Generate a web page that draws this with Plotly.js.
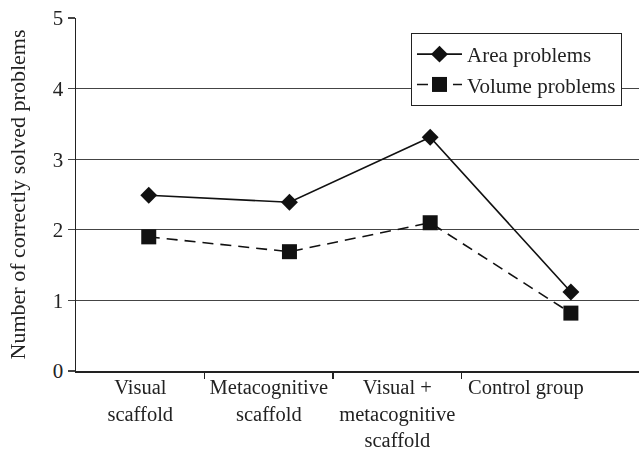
<!DOCTYPE html>
<html>
<head>
<meta charset="utf-8">
<script src="https://cdn.plot.ly/plotly-3.0.1.min.js"></script>
<style>html,body{margin:0;padding:0;background:#fff;}#chart{width:639px;height:450px;}</style>
</head>
<body>
<div id="chart"></div>
<script>
const categories = ["Visual<br>scaffold", "Metacognitive<br>scaffold", "Visual +<br>metacognitive<br>scaffold", "Control group"];
const areaValues = [2.49, 2.39, 3.31, 1.12];
const volumeValues = [1.90, 1.69, 2.10, 0.82];
const seriesNames = ["Area problems", "Volume problems"];

const idx = categories.map((c, i) => i);
const boundaries = categories.slice(0, -1).map((c, i) => i + 0.5);
const font = "Liberation Serif, Times New Roman, serif";

const traces = [
  {
    x: categories, y: areaValues, name: seriesNames[0], type: "scatter", mode: "lines+markers",
    xaxis: "x", yaxis: "y",
    line: {color: "#111", width: 1.6},
    marker: {symbol: "diamond", size: 13, color: "#111"}
  },
  {
    x: categories, y: volumeValues, name: seriesNames[1], type: "scatter", mode: "lines+markers",
    xaxis: "x", yaxis: "y",
    line: {color: "#111", width: 1.6, dash: "11px,7px"},
    marker: {symbol: "square", size: 15, color: "#111"}
  },
  {
    x: idx, y: areaValues, type: "scatter", mode: "markers", xaxis: "x2", yaxis: "y",
    opacity: 0, showlegend: false, hoverinfo: "skip"
  }
];

const layout = {
  width: 639, height: 450,
  margin: {l: 76, r: 0, t: 18, b: 79},
  paper_bgcolor: "#fff", plot_bgcolor: "#fff",
  font: {family: font, size: 20, color: "#222"},
  showlegend: true,
  legend: {
    x: 0.595, y: 0.9575, xanchor: "left", yanchor: "top",
    bgcolor: "#fff", bordercolor: "#222", borderwidth: 1,
    font: {family: font, size: 21, color: "#222"},
    itemwidth: 45,
    tracegroupgap: 0
  },
  xaxis: {
    type: "category", categoryarray: categories, range: [-0.517, 3.484],
    showticklabels: false, ticks: "", showgrid: false, zeroline: false, showline: false,
    fixedrange: true
  },
  xaxis2: {
    type: "linear", overlaying: "x", side: "bottom", anchor: "y",
    range: [-0.5, 3.88],
    tickmode: "array", tickvals: idx, ticktext: categories, ticks: "",
    ticklabelstandoff: -3,
    showgrid: false, zeroline: false,
    showline: true, linecolor: "#222", linewidth: 1.5,
    tickfont: {family: font, size: 20.5, color: "#222"},
    minor: {tickmode: "array", tickvals: boundaries, ticks: "outside", ticklen: 6, tickcolor: "#222", tickwidth: 1.2, showgrid: false}
  },
  yaxis: {
    range: [0, 5], dtick: 1, tick0: 0,
    ticks: "outside", ticklen: 7, tickcolor: "#444", tickwidth: 1.3,
    showgrid: true, gridcolor: "#444", gridwidth: 1.3,
    zeroline: false, showline: true, linecolor: "#222", linewidth: 1.5,
    tickfont: {family: font, size: 21, color: "#222"},
    title: {text: "Number of correctly solved problems", font: {family: font, size: 22, color: "#222"}, standoff: 21}
  }
};

Plotly.newPlot("chart", traces, layout, {displayModeBar: false, staticPlot: true});
</script>
</body>
</html>
